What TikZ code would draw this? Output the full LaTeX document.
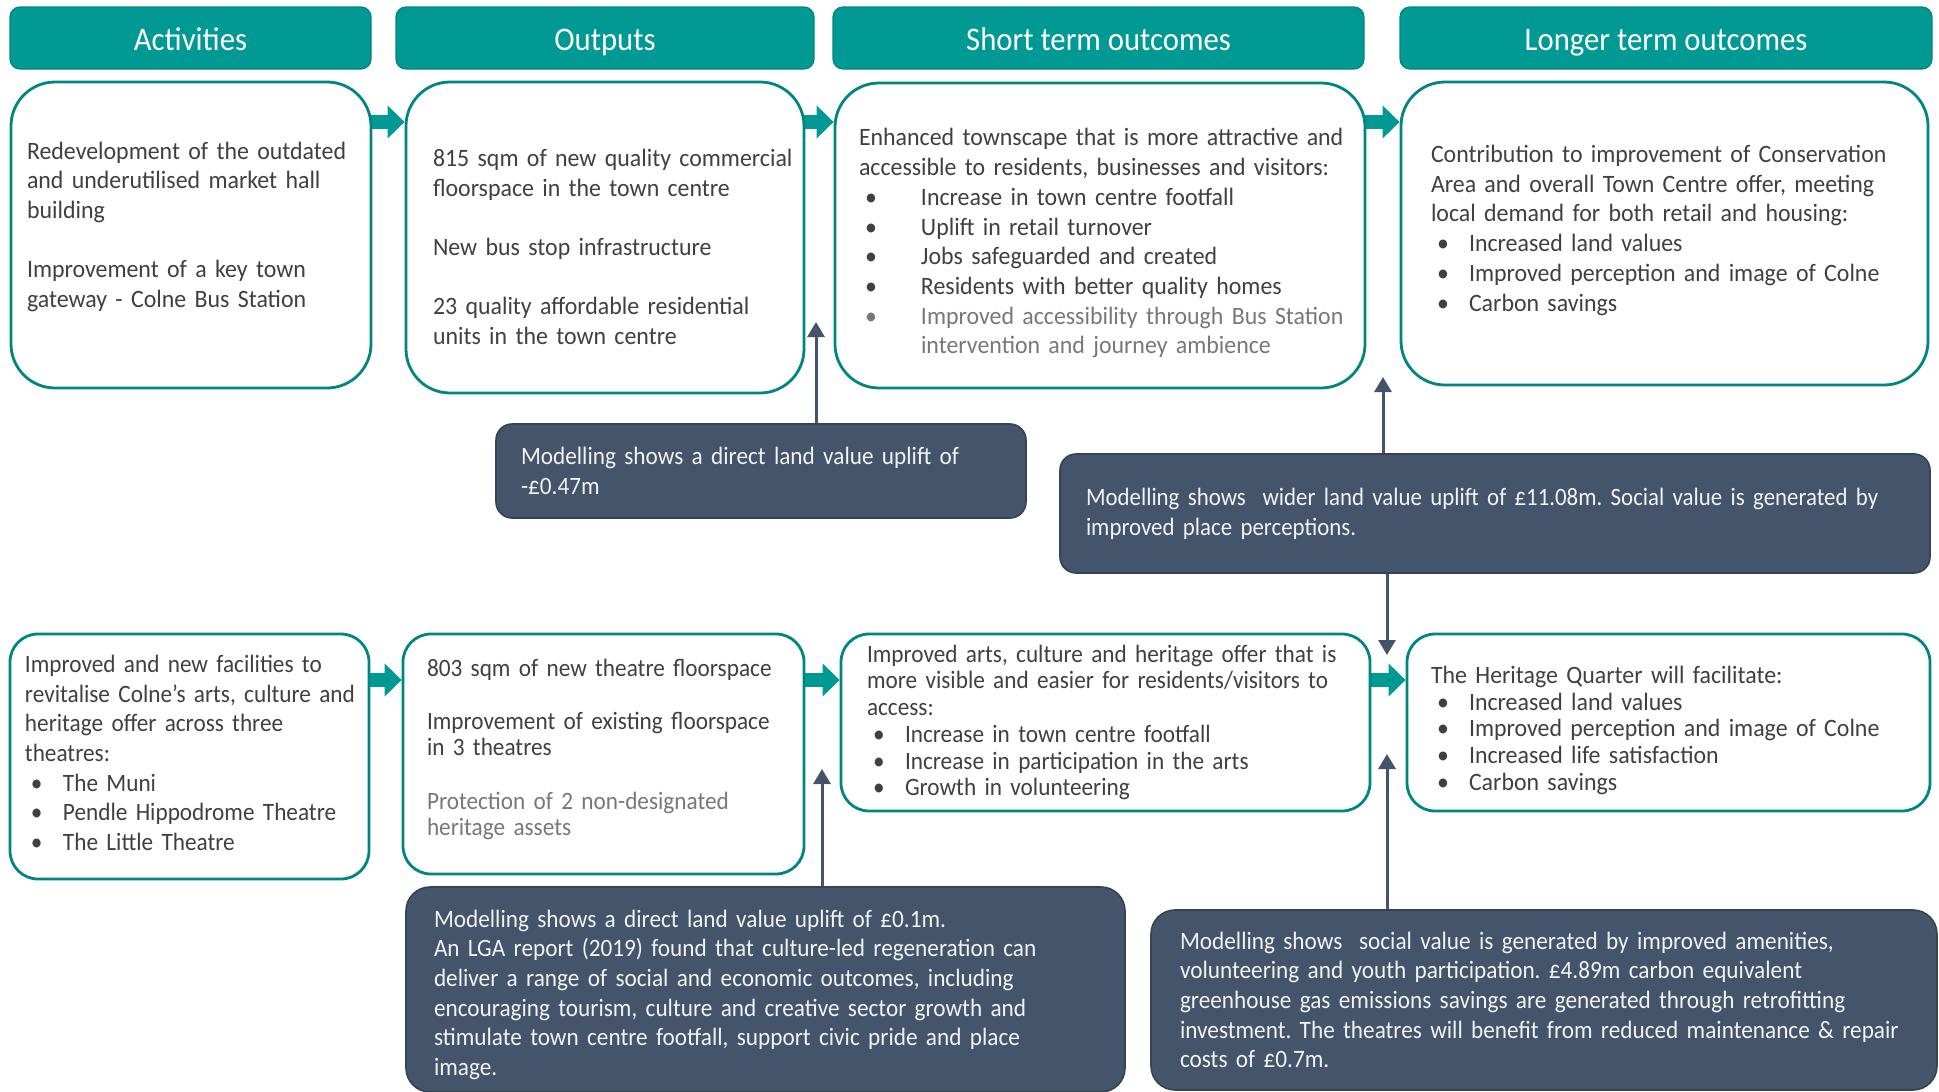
\documentclass[tikz,border=0pt]{standalone}
\usepackage{fontspec}
\setmainfont{Carlito}[FakeStretch=0.93]
\newfontfamily\widefont[FakeStretch=0.955]{Carlito}
\newfontfamily\narrowfont[FakeStretch=0.915]{Carlito}
\usetikzlibrary{arrows.meta,backgrounds,positioning}
\hyphenpenalty=10000
\exhyphenpenalty=10000
\frenchspacing

\definecolor{headteal}{RGB}{0,153,148}
\definecolor{edgeteal}{RGB}{0,133,128}
\definecolor{slate}{RGB}{68,84,106}
\definecolor{bodygray}{RGB}{64,64,64}
\definecolor{softgray}{RGB}{120,120,120}
\definecolor{paleink}{RGB}{242,242,242}

\newcommand{\bl}[2][16pt]{\hspace*{3pt}\makebox[#1][l]{\textbullet}#2}
% struts that nudge a text block down (first line) or up (last line)
\newcommand{\padtop}[1]{\rule{0pt}{#1}}
\newcommand{\padbot}[1]{\rule[-#1]{0pt}{0pt}}

\tikzset{
  head/.style={fill=headteal, draw=edgeteal, line width=0.6pt, rounded corners=5pt,
    minimum height=31pt, text height=13pt, text depth=0.8pt, text=white,
    font=\fontsize{16.5}{19}\selectfont},
  card/.style={fill=white, draw=edgeteal, line width=1.4pt, align=left, text=bodygray,
    font=\fontsize{12.5}{14.85}\selectfont},
  bigcard/.style={card, rounded corners=22pt, font=\widefont\fontsize{12.5}{14.85}\selectfont},
  smallcard/.style={card, rounded corners=14pt},
  note/.style={fill=slate, draw=slate!80!black, line width=0.8pt, align=left, text=paleink,
    font=\fontsize{12.5}{14.85}\selectfont},
  flow/.style={draw=headteal, line width=7pt, -{Triangle[length=8.5pt,width=16pt]}},
  lift/.style={draw=slate, line width=1.5pt, -{Triangle[length=7.5pt,width=8.5pt]}},
}

\begin{document}
\begin{tikzpicture}[x=0.5pt, y=-0.5pt]
  \useasboundingbox (0,0) rectangle (1939,1092);

  %Define nodes
  \node[head, minimum width=180.5pt] (hact) at (190.5,38) {Activities};
  \node[head, minimum width=209pt] (hout) at (605,38) {Outputs};
  \node[head, minimum width=265.5pt] (hshort) at (1098.5,38) {Short term outcomes};
  \node[head, minimum width=266pt] (hlong) at (1666,38) {Longer term outcomes};

  % market hall and bus station
  \node[bigcard, text width=164pt, inner xsep=8pt, minimum height=153pt] (act1) at (191,235)
    {Redevelopment of the outdated\\ and underutilised market hall\\ building\\~\\
     Improvement of a key town\\ gateway - Colne Bus Station\padbot{10.4pt}};
  \node[bigcard, text width=172pt, inner xsep=13.5pt, minimum height=155.5pt] (out1) at (605,237.5)
    {\padtop{18pt}\mbox{815 sqm of new quality commercial}\\ floorspace in the town centre\\~\\
     New bus stop infrastructure\\~\\
     23 quality affordable residential\\ units in the town centre};
  \node[bigcard, text width=241pt, inner xsep=12pt, minimum height=152.5pt] (short1) at (1100,235.5)
    {\padtop{16.5pt}\mbox{Enhanced townscape that is more attractive and}\\
     \mbox{accessible to residents, businesses and visitors:}\\
     \bl[28pt]{Increase in town centre footfall}\\
     \bl[28pt]{Uplift in retail turnover}\\
     \bl[28pt]{Jobs safeguarded and created}\\
     \bl[28pt]{Residents with better quality homes}\\
     \textcolor{softgray}{\mbox{\bl[28pt]{Improved accessibility through Bus Station}}}\\
     \textcolor{softgray}{\hspace*{31pt}intervention and journey ambience}};
  \node[bigcard, text width=233.5pt, inner xsep=15pt, minimum height=151.5pt] (long1) at (1664.5,233.5)
    {Contribution to improvement of Conservation\\ Area and overall Town Centre offer, meeting\\
     local demand for both retail and housing:\\
     \bl{Increased land values}\\
     \bl{Improved perception and image of Colne}\\
     \bl{Carbon savings}\padbot{5.4pt}};

  \node[note, rounded corners=8pt, text width=240pt, inner xsep=12.5pt, minimum height=47pt]
    (note1) at (761,471)
    {Modelling shows a direct land value uplift of\\ -£0.47m};
  \node[note, font=\narrowfont\fontsize{12.5}{14.85}\selectfont, rounded corners=8pt,
    text width=409pt, inner xsep=13pt, minimum height=59.5pt] (note2) at (1495,513.5)
    {Modelling shows\ \ wider land value uplift of £11.08m. Social value is generated by\\
     improved place perceptions.};

  % theatres
  \node[smallcard, text width=164.5pt, inner xsep=7.5pt, minimum height=122.5pt] (act2) at (189.5,756.5)
    {Improved and new facilities to\\ \mbox{revitalise Colne’s arts, culture and}\\
     heritage offer across three\\ theatres:\\
     \bl{The Muni}\\ \bl{Pendle Hippodrome Theatre}\\ \bl{The Little Theatre}\padbot{3.7pt}};
  \node[smallcard, font=\fontsize{12.5}{13.3}\selectfont, text width=176.5pt, inner xsep=12pt,
    minimum height=120pt] (out2) at (603.5,754)
    {803 sqm of new theatre floorspace\\~\\
     Improvement of existing floorspace\\ in 3 theatres\\~\\
     \textcolor{softgray}{Protection of 2 non-designated}\\
     \textcolor{softgray}{heritage assets}\padbot{6.7pt}};
  \node[smallcard, font=\fontsize{12.5}{13.35}\selectfont, text width=238.5pt,
    inner xsep=13pt, minimum height=88.5pt] (short2) at (1105.5,722.5)
    {Improved arts, culture and heritage offer that is\\
     more visible and easier for residents/visitors to\\ access:\\
     \bl{Increase in town centre footfall}\\
     \bl{Increase in participation in the arts}\\
     \bl{Growth in volunteering}};
  \node[smallcard, font=\widefont\fontsize{12.5}{13.35}\selectfont, text width=237.5pt, inner xsep=12pt,
    minimum height=88.5pt] (long2) at (1668.5,722.5)
    {\padtop{16.5pt}The Heritage Quarter will facilitate:\\
     \bl{Increased land values}\\
     \bl{Improved perception and image of Colne}\\
     \bl{Increased life satisfaction}\\
     \bl{Carbon savings}};

  \node[note, rounded corners=12pt, text width=331.5pt, inner xsep=14pt, minimum height=102.5pt]
    (note3) at (765.5,989.5)
    {\padtop{14pt}Modelling shows a direct land value uplift of £0.1m.\\
     An LGA report (2019) found that culture-led regeneration can\\
     deliver a range of social and economic outcomes, including\\
     encouraging tourism, culture and creative sector growth and\\
     stimulate town centre footfall, support civic pride and place\\
     image.};
  \node[note, rounded corners=12pt, text width=364pt, inner xsep=14.5pt, minimum height=90pt]
    (note4) at (1544,1000)
    {Modelling shows\ \ social value is generated by improved amenities,\\
     volunteering and youth participation. £4.89m carbon equivalent\\
     greenhouse gas emissions savings are generated through retrofitting\\
     investment. The theatres will benefit from reduced maintenance \& repair\\
     costs of £0.7m.};

  \coordinate (r1) at (0,122);
  \coordinate (r2) at (0,680);
  \coordinate (tip1) at (816,322);
  \coordinate (tip2) at (1383,377);
  \coordinate (tip3) at (1387,655);
  \coordinate (tip4) at (822,769);
  \coordinate (tip5) at (1387,754);

  % Connect the nodes
  \begin{scope}[on background layer]
    \draw[flow] (act1.center |- r1) -- (out1.west |- r1);
    \draw[flow] (out1.center |- r1) -- (short1.west |- r1);
    \draw[flow] (short1.center |- r1) -- (long1.west |- r1);
    \draw[flow] (act2.center |- r2) -- (out2.west |- r2);
    \draw[flow] (out2.center |- r2) -- (short2.west |- r2);
    \draw[flow] (short2.center |- r2) -- (long2.west |- r2);
  \end{scope}

  \draw[lift] (note1.north -| tip1) -- (tip1);
  \draw[lift] (note2.north -| tip2) -- (tip2);
  \draw[lift] (note2.south -| tip3) -- (tip3);
  \draw[lift] (note3.north -| tip4) -- (tip4);
  \draw[lift] (note4.north -| tip5) -- (tip5);

\end{tikzpicture}
\end{document}
